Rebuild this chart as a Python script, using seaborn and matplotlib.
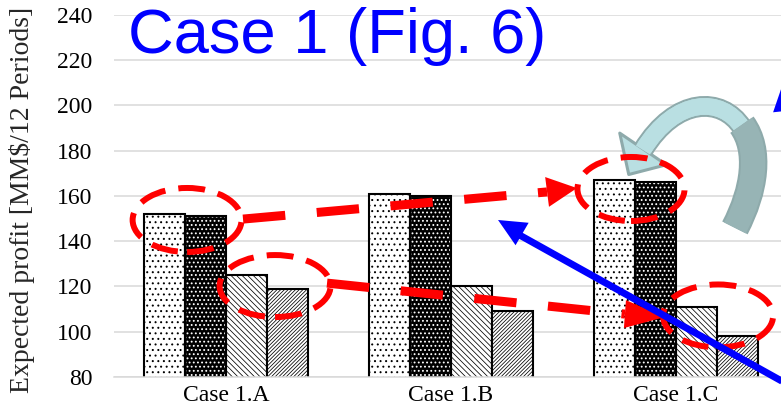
import numpy as np
import pandas as pd
import matplotlib
matplotlib.use("Agg")
import matplotlib.pyplot as plt
import matplotlib.patheffects as pe
from matplotlib.patches import Ellipse, Polygon, PathPatch, Rectangle
from matplotlib.path import Path
import seaborn as sns

# ---- data -------------------------------------------------------------
cases = ["Case 1.A", "Case 1.B", "Case 1.C"]
series = ["Scenario 1", "Scenario 2", "Scenario 3", "Scenario 4"]
profit_s1 = [152, 161, 167]
profit_s2 = [151, 160, 166]
profit_s3 = [125, 120, 111]
profit_s4 = [119, 109, 98]
y_ticks = [80, 100, 120, 140, 160, 180, 200, 220, 240]
y_label = "Expected profit [MM$/12 Periods]"
title = "Case 1 (Fig. 6)"

rows = []
for name, vals in zip(series, [profit_s1, profit_s2, profit_s3, profit_s4]):
    for c, v in zip(cases, vals):
        rows.append({"case": c, "series": name, "profit": v})
df = pd.DataFrame(rows)

# ---- style ------------------------------------------------------------
sns.set_theme(style="white")
plt.rcParams["font.family"] = ["Liberation Serif", "DejaVu Serif"]
plt.rcParams["hatch.linewidth"] = 0.55
GRID = "#d9d9d9"

fig = plt.figure(figsize=(7.81, 4.07), dpi=100)
ax = fig.add_axes([113.5 / 781, 1 - 377 / 407, 675 / 781, 362 / 407])

sns.barplot(data=df, x="case", y="profit", hue="series", order=cases,
            hue_order=series, palette=["white"] * 4, saturation=1,
            edgecolor="black", linewidth=1.5, width=0.73, gap=0,
            errorbar=None, legend=False, ax=ax, zorder=2)

hatches = ["...", "....", "\\" * 6, "/" * 9]
hatch_lw = [0.7, 0.8, 0.55, 0.55]
for i, cont in enumerate(ax.containers):
    for bar in cont:
        if i == 1:
            # dark bar with light dots, then a black outline on top
            bar.set_facecolor("black")
            bar.set_edgecolor("white")
            ax.add_patch(Rectangle((bar.get_x(), bar.get_y()), bar.get_width(),
                                   bar.get_height(), fill=False,
                                   edgecolor="black", lw=1.5, zorder=2.5))
        else:
            bar.set_facecolor("white")
            bar.set_edgecolor("black")
        bar.set_hatch(hatches[i])
        if hasattr(bar, "set_hatch_linewidth"):
            bar.set_hatch_linewidth(hatch_lw[i])

ax.set_xlim(-0.5, 2.5)
ax.set_ylim(y_ticks[0], y_ticks[-1])
ax.set_yticks(y_ticks)
ax.set_xticks(range(len(cases)))
ax.set_xticklabels(cases)
ax.set_xticks([-0.5, 0.5, 1.5, 2.5], minor=True)
ax.set_xlabel("")
ax.set_ylabel(y_label, fontsize=20)
ax.yaxis.set_label_coords(-0.1163, 0.489)

ax.tick_params(axis="x", which="major", length=0, labelsize=17, pad=6,
               colors="black")
ax.tick_params(axis="x", which="minor", length=22, width=1.1, color=GRID,
               direction="out")
ax.tick_params(axis="y", length=0, labelsize=17, pad=15, colors="black")

for s in ["left", "right", "top"]:
    ax.spines[s].set_visible(False)
ax.spines["bottom"].set_color(GRID)
ax.spines["bottom"].set_linewidth(1.1)
ax.yaxis.grid(True, color=GRID, lw=1.1)
ax.xaxis.grid(False)
ax.set_axisbelow(True)

fig.text(128 / 781, 1 - 53 / 407, title, color="#0000ff", fontsize=45.5,
         family="Liberation Sans", va="baseline", ha="left")


# ---- annotations -------------------------------------------------------
def arrow_head(tip, back, half_w, color, z):
    T = ax.transData.transform(tip)
    B = ax.transData.transform(back)
    d = T - B
    n = np.array([-d[1], d[0]]) / np.hypot(*d)
    pts = np.array([T, B + n * half_w, B - n * half_w])
    pts = ax.transData.inverted().transform(pts)
    ax.add_patch(Polygon(pts, closed=True, fc=color, ec="none",
                         clip_on=False, zorder=z))


RED = "#ff0000"
ell_dash = (0, (4.5, 2.2))
for (cx, cy, w, h) in [(-0.173, 149.4, 0.484, 28.3), (0.218, 120.2, 0.493, 27.4),
                       (1.80, 163.1, 0.476, 28.3), (2.187, 107.0, 0.489, 27.8)]:
    ax.add_patch(Ellipse((cx, cy), w, h, fill=False, ec=RED, lw=4.3,
                         ls=ell_dash, zorder=5, clip_on=False))

line_dash = (0, (4.7, 3.5))
# upper trend arrow
ax.plot([0.0756, 1.427], [149.8, 161.8], color=RED, lw=6.5, ls=line_dash,
        zorder=5)
arrow_head((1.56, 163.5), (1.427, 161.8), 15, RED, 5)
# lower trend arrow
ax.plot([0.449, 1.773], [121.5, 107.8], color=RED, lw=6.5, ls=line_dash,
        zorder=5)
arrow_head((1.951, 106.5), (1.773, 107.8), 14, RED, 5)

# blue arrows
BLUE = "#0000ff"
ax.plot([2.573, 1.30], [72.5, 143.0], color=BLUE, lw=5, zorder=6,
        clip_on=False, solid_capstyle="butt")
arrow_head((1.209, 149.4), (1.316, 143.2), 13, BLUE, 6)
arrow_head((2.476, 209.9), (2.489, 197.6), 13, BLUE, 6)

# curved block arrow
LIGHT, DARK, EDGE = "#b9dfe2", "#97b4b5", "#8eaaab"
codes = [Path.MOVETO, Path.CURVE4, Path.CURVE4, Path.CURVE4]
light_path = Path([(2.293, 190.4), (2.204, 204.0), (2.0, 204.0), (1.853, 180.3)], codes)
dark_path = Path([(2.262, 145.9), (2.350, 162.7), (2.375, 180.3), (2.293, 191.5)], codes)
ax.add_patch(PathPatch(light_path, fill=False, ec=LIGHT, lw=12,
                       capstyle="butt", zorder=4, clip_on=False,
                       path_effects=[pe.Stroke(linewidth=15, foreground=EDGE),
                                     pe.Normal()]))
ax.add_patch(Polygon([(1.790, 169.5), (1.957, 173.8), (1.750, 187.8)],
                     closed=True, fc=LIGHT, ec=EDGE, lw=2.2, zorder=4,
                     joinstyle="round"))
ax.add_patch(PathPatch(light_path, fill=False, ec=LIGHT, lw=12,
                       capstyle="butt", zorder=4, clip_on=False))
ax.add_patch(PathPatch(dark_path, fill=False, ec=DARK, lw=17.5,
                       capstyle="butt", zorder=4, clip_on=False,
                       path_effects=[pe.Stroke(linewidth=20.5, foreground=EDGE),
                                     pe.Normal()]))

fig.savefig("out.png", dpi=100)
